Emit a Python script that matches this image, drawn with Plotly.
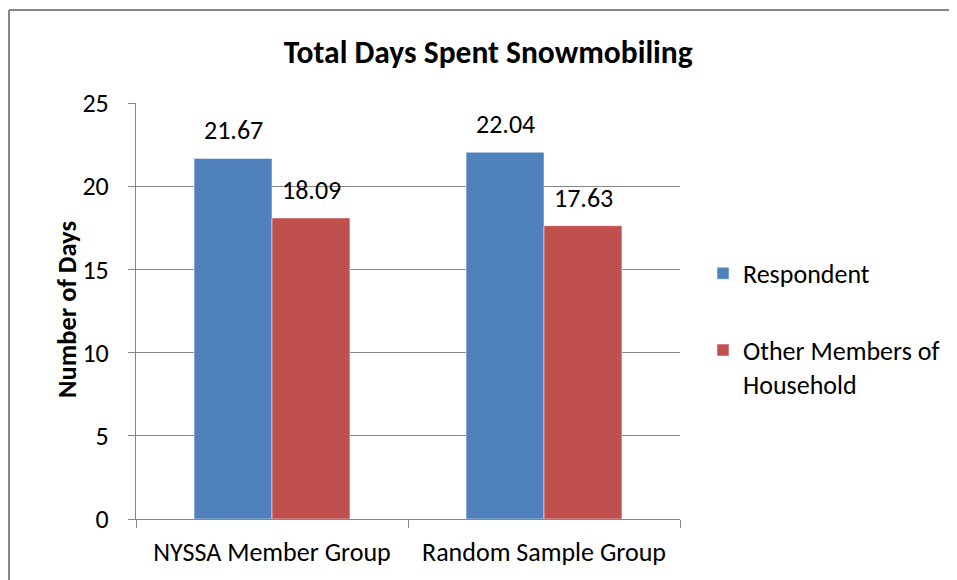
import plotly.graph_objects as go

categories = ["NYSSA Member Group", "Random Sample Group"]
respondent = [21.67, 22.04]
other_members = [18.09, 17.63]
series_names = ["Respondent", "Other Members of<br>Household"]
y_ticks = [0, 5, 10, 15, 20, 25]
y_title = "Number of Days"
chart_title = "Total Days Spent Snowmobiling"

FONT = "Carlito, Lato, 'Liberation Sans', sans-serif"
GRAY = "#868686"
BLUE = "#4F81BD"
RED = "#C0504D"

fig = go.Figure()
fig.add_trace(go.Bar(x=categories, y=respondent, name=series_names[0], legendgroup="a",
                     marker=dict(color=BLUE, line=dict(color="white", width=0.5))))
fig.add_trace(go.Bar(x=categories, y=other_members, name=series_names[1], legendgroup="b",
                     marker=dict(color=RED, line=dict(color="white", width=0.5))))

# data labels
for i, c in enumerate(categories):
    for vals, shift in ((respondent, -39), (other_members, 39)):
        fig.add_annotation(x=c, y=vals[i], text=f"{vals[i]:.2f}", showarrow=False,
                           xshift=shift, yshift=10, yanchor="bottom",
                           font=dict(family=FONT, size=26, color="black"))

# y-axis title
fig.add_annotation(xref="paper", yref="paper", x=-0.1268, y=0.5024,
                   text=f"<b>{y_title}</b>", textangle=-90, showarrow=False,
                   xanchor="center", yanchor="middle",
                   font=dict(family=FONT, size=26.5, color="black"))

# outer chart-area border (top and left edges visible in the frame)
fig.add_shape(type="line", xref="paper", yref="paper",
              x0=-0.2335, x1=2.0, y0=1.2236, y1=1.2236,
              line=dict(color=GRAY, width=2), layer="below")
fig.add_shape(type="line", xref="paper", yref="paper",
              x0=-0.2335, x1=-0.2335, y0=-0.40, y1=1.2236,
              line=dict(color=GRAY, width=2), layer="below")

fig.update_layout(
    template="none",
    width=949, height=572,
    margin=dict(l=128, r=277, t=95, b=61, autoexpand=False),
    paper_bgcolor="white", plot_bgcolor="white",
    barmode="group", bargap=0.427, bargroupgap=0,
    font=dict(family=FONT, size=26, color="black"),
    title=dict(text=f"<b>{chart_title}</b>", x=0.506, xref="container",
               y=0.9228, yref="container", xanchor="center", yanchor="middle",
               font=dict(family=FONT, size=31.5, color="black")),
    legend=dict(x=1.0423, xanchor="left", y=0.647, yanchor="top",
                font=dict(family=FONT, size=26, color="black"),
                bgcolor="rgba(0,0,0,0)",
                tracegroupgap=40, itemwidth=30, valign="top"),
    xaxis=dict(showgrid=False, showline=True, linecolor=GRAY, linewidth=1,
               automargin=False, zeroline=False,
               ticks="outside", tickson="boundaries", ticklen=8, tickcolor=GRAY,
               ticklabelstandoff=10,
               tickfont=dict(family=FONT, size=26, color="black")),
    yaxis=dict(range=[0, 25], tickvals=y_ticks, showgrid=True, gridcolor=GRAY, gridwidth=1,
               showline=True, linecolor=GRAY, linewidth=1, zeroline=False, automargin=False,
               ticks="outside", ticklen=7, tickcolor=GRAY, ticklabelstandoff=14,
               tickfont=dict(family=FONT, size=26, color="black")),
)

fig.write_html(
    "out.html",
    post_script="document.documentElement.style.overflow='hidden';"
                "document.body.style.overflow='hidden';",
)
